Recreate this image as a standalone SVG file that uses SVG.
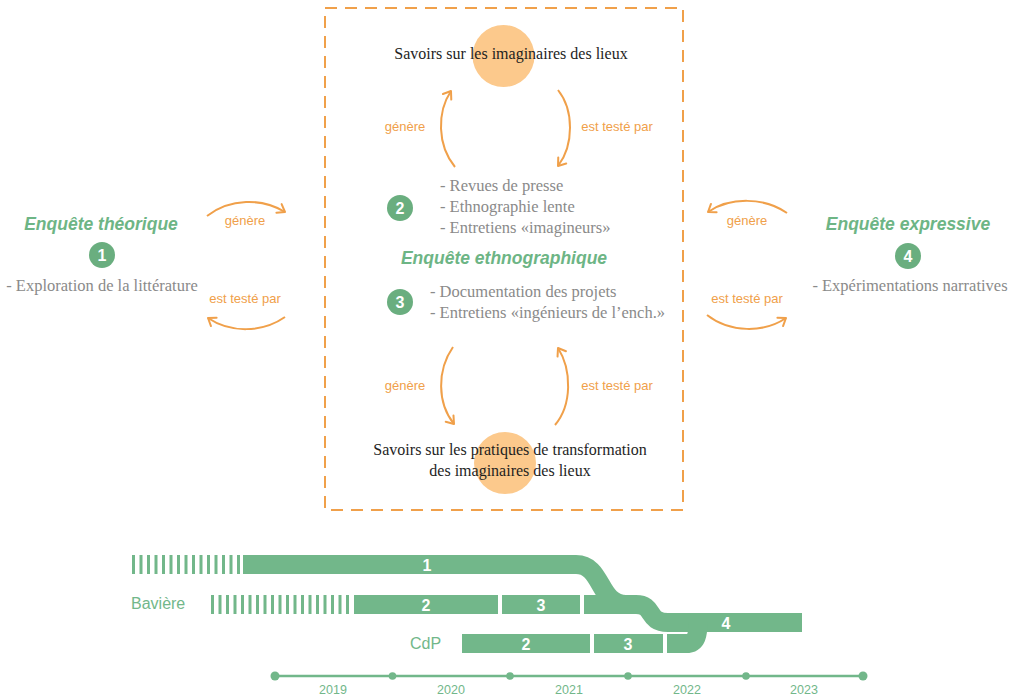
<svg xmlns="http://www.w3.org/2000/svg" width="1018" height="700" viewBox="0 0 1018 700">
  <defs>
    <style>
      .arc { fill: none; stroke: #f0a04a; stroke-width: 2; marker-end: url(#chev); }
      .lbl { font-family: "Liberation Sans", Arial, sans-serif; font-size: 13px; fill: #f0a04a; text-anchor: middle; }
      .title { font-family: "Liberation Sans", Arial, sans-serif; font-size: 17.5px; font-weight: bold; font-style: italic; fill: #6db585; text-anchor: middle; }
      .serif { font-family: "Liberation Serif", "Times New Roman", serif; }
      .grey { fill: #8a8a8a; font-size: 16.5px; }
      .dark { fill: #1e1e1e; text-anchor: middle; font-size: 16px; }
      .badge { fill: #6aae7f; }
      .num { font-family: "Liberation Sans", Arial, sans-serif; font-size: 16px; font-weight: bold; fill: #ffffff; text-anchor: middle; }
      .bar { fill: #72b78a; }
      .band { fill: none; stroke: #72b78a; stroke-width: 19; }
      .hatch { fill: none; stroke: #72b78a; stroke-width: 19; stroke-dasharray: 3 4.5; }
      .tl { font-family: "Liberation Sans", Arial, sans-serif; fill: #72b78a; }
    </style>
    <marker id="chev" viewBox="-9 -7 11 14" refX="0" refY="0" markerWidth="11" markerHeight="14" markerUnits="userSpaceOnUse" orient="auto">
      <path d="M-7,-5 L0,0 L-7,5" fill="none" stroke="#f0a04a" stroke-width="2" stroke-linecap="round" stroke-linejoin="round"/>
    </marker>
  </defs>

  <rect width="1018" height="700" fill="#ffffff"/>

  <!-- ethnographic frame -->
  <rect x="325" y="8" width="358" height="502" fill="none" stroke="#f0a04a" stroke-width="2" stroke-dasharray="12 8"/>

  <!-- knowledge nodes -->
  <g id="node-savoirs-imaginaires">
    <circle cx="503.5" cy="56" r="31" fill="#fcc98c"/>
    <text class="serif dark" x="511" y="59">Savoirs sur les imaginaires des lieux</text>
  </g>

  <g id="node-savoirs-pratiques">
    <circle cx="505" cy="463" r="31" fill="#fcc98c"/>
    <text class="serif dark" x="510" y="455">Savoirs sur les pratiques de transformation</text>
    <text class="serif dark" x="510" y="476">des imaginaires des lieux</text>
  </g>

  <!-- enquête ethnographique -->
  <g id="node-ethno">
    <text class="title" x="504" y="264" font-size="18">Enquête ethnographique</text>
    <circle class="badge" cx="400" cy="208" r="13"/>
    <text class="num" x="400" y="213.5">2</text>
    <text class="serif grey" x="440" y="191">- Revues de presse</text>
    <text class="serif grey" x="440" y="212">- Ethnographie lente</text>
    <text class="serif grey" x="440" y="233">- Entretiens «imagineurs»</text>
    <circle class="badge" cx="400" cy="302" r="13"/>
    <text class="num" x="400" y="307.5">3</text>
    <text class="serif grey" x="430" y="297">- Documentation des projets</text>
    <text class="serif grey" x="430" y="318">- Entretiens «ingénieurs de l’ench.»</text>
  </g>

  <!-- enquête théorique -->
  <g id="node-theorique">
    <text class="title" x="101" y="230">Enquête théorique</text>
    <circle class="badge" cx="102" cy="255" r="13"/>
    <text class="num" x="102" y="260.5">1</text>
    <text class="serif grey" x="102" y="291" text-anchor="middle">- Exploration de la littérature</text>
  </g>

  <!-- enquête expressive -->
  <g id="node-expressive">
    <text class="title" x="908" y="230">Enquête expressive</text>
    <circle class="badge" cx="908" cy="256" r="13"/>
    <text class="num" x="908" y="261.5">4</text>
    <text class="serif grey" x="910" y="291" text-anchor="middle">- Expérimentations narratives</text>
  </g>

  <!-- connectors -->
  <g id="connectors">
    <path class="arc" d="M455,167 C437,145 437,112 451,91"/>
    <path class="arc" d="M558,90 C574,110 574,145 558,166"/>
    <text class="lbl" x="405" y="131">génère</text>
    <text class="lbl" x="617" y="131">est testé par</text>

    <path class="arc" d="M453,347 C437,370 437,403 454,424"/>
    <path class="arc" d="M555,425 C572,405 572,370 558,348"/>
    <text class="lbl" x="405" y="390">génère</text>
    <text class="lbl" x="617" y="390">est testé par</text>

    <path class="arc" d="M207,216 C230,198 262,198 285,212"/>
    <path class="arc" d="M285,317 C262,333 230,333 208,318"/>
    <text class="lbl" x="245" y="225">génère</text>
    <text class="lbl" x="245" y="303">est testé par</text>

    <path class="arc" d="M787,213 C764,197 730,197 708,212"/>
    <path class="arc" d="M707,315 C730,333 764,333 786,318"/>
    <text class="lbl" x="747" y="225">génère</text>
    <text class="lbl" x="747" y="303">est testé par</text>
  </g>

  <!-- timeline bands -->
  <g id="timeline-bands">
    <path class="hatch" d="M132,564.5 H242"/>
    <path class="hatch" d="M211,604.5 H352"/>

    <path class="band" d="M243,564.5 H576 C603,564.5 598,604.5 626,604.5"/>
    <path class="band" d="M584,604.5 H636 C655,604.5 646,622.5 668,622.5 H802"/>
    <path class="band" d="M667,643.5 H686 C697,643.5 698,634 698,622"/>

    <rect class="bar" x="354" y="595" width="144" height="19"/>
    <rect class="bar" x="502" y="595" width="78" height="19"/>
    <rect class="bar" x="462" y="634" width="128" height="19"/>
    <rect class="bar" x="594" y="634" width="69" height="19"/>

    <text class="num" x="427" y="570.5">1</text>
    <text class="num" x="426" y="610.5">2</text>
    <text class="num" x="541" y="610.5">3</text>
    <text class="num" x="526" y="649.5">2</text>
    <text class="num" x="628" y="649.5">3</text>
    <text class="num" x="726" y="628.5">4</text>

    <text class="tl" x="131" y="609" font-size="16">Bavière</text>
    <text class="tl" x="410" y="649" font-size="16">CdP</text>
  </g>

  <!-- time axis -->
  <g id="time-axis">
    <line x1="275" y1="676" x2="863" y2="676" stroke="#72b78a" stroke-width="2.5"/>
    <g fill="#72b78a">
      <circle cx="275" cy="676" r="4.5"/>
      <circle cx="392.5" cy="676" r="3.8"/>
      <circle cx="510" cy="676" r="3.8"/>
      <circle cx="628" cy="676" r="3.8"/>
      <circle cx="746" cy="676" r="3.8"/>
      <circle cx="863" cy="676" r="4.5"/>
    </g>
    <g class="tl" font-size="12.5" text-anchor="middle">
      <text x="333" y="694">2019</text>
      <text x="451" y="694">2020</text>
      <text x="569" y="694">2021</text>
      <text x="687" y="694">2022</text>
      <text x="804" y="694">2023</text>
    </g>
  </g>
</svg>
